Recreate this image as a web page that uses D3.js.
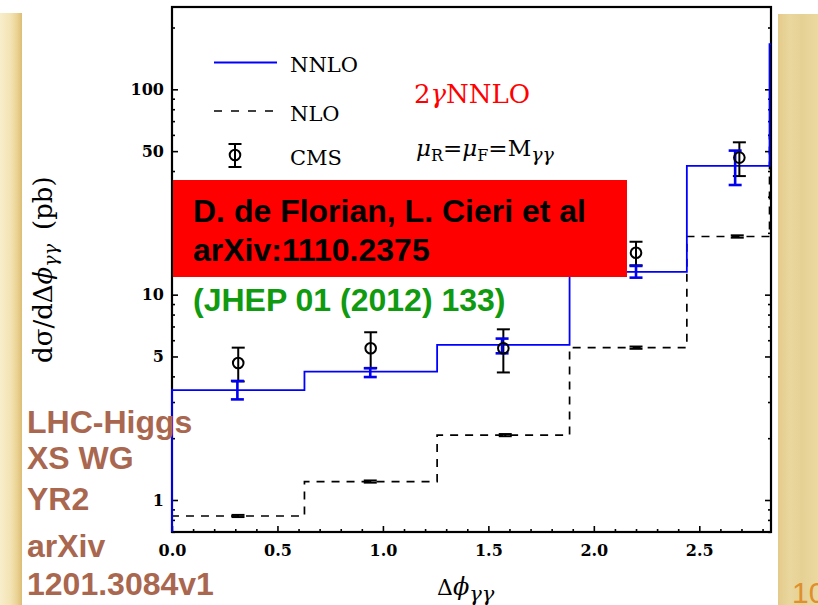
<!DOCTYPE html>
<html><head><meta charset="utf-8">
<script src="https://cdn.jsdelivr.net/npm/d3@7"></script>
<style>html,body{margin:0;padding:0;background:#fff;overflow:hidden}</style>
</head><body>
<svg id="c" width="818" height="605"></svg>
<script>
// Δφγγ bin edges (rad) and theory predictions per bin (pb)
const binEdges = [0, 0.628, 1.257, 1.885, 2.441, 2.833, 3.1416];
const nnloValues = [3.43, 4.22, 5.69, 12.9, 42.4, 166];
const nloValues = [0.836, 1.23, 2.07, 5.52, 19.2, 60];
// theory uncertainty bars
const theoryX = [0.31, 0.94, 1.565, 2.20, 2.67];
const nnloLow = [3.09, 3.97, 5.18, 12.1, 34.2];
const nnloHigh = [3.80, 4.38, 6.11, 13.8, 50.3];
const nloX = [0.313, 0.94, 1.58, 2.20, 2.68];
const nloLow = [0.826, 1.215, 2.045, 5.45, 18.95];
const nloHigh = [0.846, 1.245, 2.095, 5.59, 19.45];
// CMS measurement
const cmsX = [0.314, 0.942, 1.571, 2.20, 2.69];
const cmsValues = [4.65, 5.48, 5.48, 16.0, 46.5];
const cmsErrors = [0.87, 1.08, 1.30, 2.1, 8.7];
// axis ticks
const xTickValues = [0, 0.5, 1.0, 1.5, 2.0, 2.5];
const yTickValues = [1, 5, 10, 50, 100];
const yTickLabels = ["1", "5", "10", "50", "100"];

const svg = d3.select("#c");
const W = 818, H = 605;
const plot = {left: 172, right: 771, top: 7, bottom: 532};

const x = d3.scaleLinear().domain([0, 2.84]).range([plot.left, plot.right]);
const y = d3.scaleLog().domain([0.6985, 251.7]).range([plot.bottom, plot.top]);

const defs = svg.append("defs");
const lg = defs.append("linearGradient").attr("id", "lstrip").attr("x1", 0).attr("x2", 1).attr("y1", 0).attr("y2", 0);
[[0, "#f8eecb"], [0.5, "#f3e3b2"], [0.78, "#ead293"], [1, "#dcbd76"]].forEach(([o, c]) =>
  lg.append("stop").attr("offset", o).attr("stop-color", c));
const rg = defs.append("linearGradient").attr("id", "rstrip").attr("x1", 0).attr("x2", 1).attr("y1", 0).attr("y2", 0);
[[0, "#e3cb8a"], [0.3, "#ead79e"], [0.6, "#e6d194"], [1, "#ebd9a1"]].forEach(([o, c]) =>
  rg.append("stop").attr("offset", o).attr("stop-color", c));
defs.append("clipPath").attr("id", "plotclip").append("rect")
  .attr("x", plot.left - 2).attr("y", plot.top).attr("width", plot.right - plot.left + 2).attr("height", plot.bottom - plot.top);

// slide background strips
svg.append("rect").attr("x", 0).attr("y", 0).attr("width", W).attr("height", H).attr("fill", "#fff");
svg.append("rect").attr("x", 0).attr("y", 13).attr("width", 22).attr("height", H - 13).attr("fill", "url(#lstrip)");
svg.append("rect").attr("x", 778).attr("y", 14).attr("width", 40).attr("height", H - 14).attr("fill", "url(#rstrip)");
svg.append("text").attr("x", 792).attr("y", 603).attr("font-family", "Liberation Sans, Arial, sans-serif")
  .attr("font-size", 30).attr("fill", "#df8f2e").text("10");

// axes (ticks point inward)
const tickFont = "DejaVu Serif, serif";
function styleAxis(g) {
  g.select(".domain").remove();
  g.selectAll(".tick line").attr("stroke", "#000").attr("stroke-width", 1.6);
  g.selectAll(".tick text").attr("font-family", tickFont).attr("font-weight", "bold").attr("font-size", 16).attr("fill", "#000");
}
const yMinor = [];
[0.1, 1, 10, 100].forEach(d => { for (let k = 2; k <= 9; k++) { const v = d * k; if (v > y.domain()[0] && v < y.domain()[1] && !yTickValues.includes(v)) yMinor.push(v); } });
const xMinor = d3.range(0, 2.84, 0.1).filter(v => Math.abs(v * 2 - Math.round(v * 2)) > 1e-6);

svg.append("g").attr("transform", `translate(${plot.left},0)`)
  .call(d3.axisLeft(y).tickValues(yTickValues).tickFormat((d, i) => yTickLabels[i]).tickSize(-6).tickPadding(8))
  .call(styleAxis);
svg.append("g").attr("transform", `translate(${plot.left},0)`)
  .call(d3.axisLeft(y).tickValues(yMinor).tickFormat("").tickSize(-3)).call(styleAxis);
svg.append("g").attr("transform", `translate(${plot.right},0)`)
  .call(d3.axisRight(y).tickValues(yTickValues).tickFormat("").tickSize(-6)).call(styleAxis);
svg.append("g").attr("transform", `translate(${plot.right},0)`)
  .call(d3.axisRight(y).tickValues(yMinor).tickFormat("").tickSize(-3)).call(styleAxis);
svg.append("g").attr("transform", `translate(0,${plot.bottom})`)
  .call(d3.axisBottom(x).tickValues(xTickValues).tickFormat(d3.format(".1f")).tickSize(-6).tickPadding(13))
  .call(styleAxis);
svg.append("g").attr("transform", `translate(0,${plot.bottom})`)
  .call(d3.axisBottom(x).tickValues(xMinor).tickFormat("").tickSize(-3)).call(styleAxis);

svg.append("rect").attr("x", plot.left).attr("y", plot.top)
  .attr("width", plot.right - plot.left).attr("height", plot.bottom - plot.top)
  .attr("fill", "none").attr("stroke", "#000").attr("stroke-width", 2.2);

// histograms
function stepPoints(values) {
  const pts = [[binEdges[0], y.domain()[0]]];
  values.forEach((v, i) => pts.push([binEdges[i], v]));
  pts.push([binEdges[binEdges.length - 1], values[values.length - 1]]);
  return pts;
}
const step = d3.line().x(d => x(d[0])).y(d => y(d[1])).curve(d3.curveStepAfter);
const hist = svg.append("g").attr("clip-path", "url(#plotclip)");
hist.append("path").attr("d", step(stepPoints(nloValues))).attr("fill", "none")
  .attr("stroke", "#000").attr("stroke-width", 1.7).attr("stroke-dasharray", "8,7");
hist.append("path").attr("d", step(stepPoints(nnloValues))).attr("fill", "none")
  .attr("stroke", "#0000ff").attr("stroke-width", 1.8);

// error bars
function errorBars(g, xs, lo, hi, color, width, cap) {
  xs.forEach((xv, i) => {
    const cx = x(xv), y0 = y(lo[i]), y1 = y(hi[i]);
    g.append("line").attr("x1", cx).attr("x2", cx).attr("y1", y0).attr("y2", y1).attr("stroke", color).attr("stroke-width", width);
    [y0, y1].forEach(yy => g.append("line").attr("x1", cx - cap / 2).attr("x2", cx + cap / 2)
      .attr("y1", yy).attr("y2", yy).attr("stroke", color).attr("stroke-width", width));
  });
}
const bars = svg.append("g");
errorBars(bars, nloX, nloLow, nloHigh, "#000", 2, 13);
errorBars(bars, cmsX, cmsValues.map((v, i) => v - cmsErrors[i]), cmsValues.map((v, i) => v + cmsErrors[i]), "#000", 2, 13);
errorBars(bars, theoryX, nnloLow, nnloHigh, "#0000ee", 2.6, 13);
cmsX.forEach((xv, i) => bars.append("circle").attr("cx", x(xv)).attr("cy", y(cmsValues[i])).attr("r", 5.3)
  .attr("fill", "none").attr("stroke", "#000").attr("stroke-width", 2));

// legend
const serif = "DejaVu Serif, serif";
const leg = svg.append("g").attr("font-family", serif).attr("font-size", 21).attr("fill", "#000");
leg.append("line").attr("x1", 214).attr("x2", 277).attr("y1", 62.5).attr("y2", 62.5).attr("stroke", "#0000ff").attr("stroke-width", 1.8);
leg.append("line").attr("x1", 214).attr("x2", 274).attr("y1", 111).attr("y2", 111).attr("stroke", "#000").attr("stroke-width", 1.7).attr("stroke-dasharray", "8,9");
leg.append("line").attr("x1", 235).attr("x2", 235).attr("y1", 144).attr("y2", 167).attr("stroke", "#000").attr("stroke-width", 2);
[144, 167].forEach(yy => leg.append("line").attr("x1", 228.5).attr("x2", 241.5).attr("y1", yy).attr("y2", yy).attr("stroke", "#000").attr("stroke-width", 2));
leg.append("circle").attr("cx", 235).attr("cy", 155).attr("r", 5.3).attr("fill", "none").attr("stroke", "#000").attr("stroke-width", 2);
leg.append("text").attr("x", 290).attr("y", 72).text("NNLO");
leg.append("text").attr("x", 290).attr("y", 120.5).text("NLO");
leg.append("text").attr("x", 290).attr("y", 164.5).text("CMS");

// calculation label and scale choice
const t1 = svg.append("text").attr("x", 414).attr("y", 103).attr("font-family", serif).attr("font-size", 26).attr("fill", "#ff0000");
t1.append("tspan").text("2");
t1.append("tspan").attr("font-style", "italic").text("γ");
t1.append("tspan").text("NNLO");
const t2 = svg.append("text").attr("x", 416).attr("y", 156).attr("font-family", serif).attr("font-size", 23).attr("fill", "#000");
t2.append("tspan").attr("font-style", "italic").text("μ");
t2.append("tspan").attr("font-size", 16).attr("dy", 5).text("R");
t2.append("tspan").attr("dy", -5).text("=");
t2.append("tspan").attr("font-style", "italic").text("μ");
t2.append("tspan").attr("font-size", 16).attr("dy", 5).text("F");
t2.append("tspan").attr("dy", -5).text("=");
t2.append("tspan").text("M");
t2.append("tspan").attr("font-size", 19).attr("font-style", "italic").attr("dy", 5).text("γγ");

// axis titles
const xt = svg.append("text").attr("x", 437).attr("y", 595).attr("font-family", serif).attr("font-size", 22).attr("fill", "#000");
xt.append("tspan").text("Δ");
xt.append("tspan").attr("font-style", "italic").attr("font-size", 24).text("ϕ");
xt.append("tspan").attr("font-style", "italic").attr("font-size", 21).attr("dy", 6).text("γγ");
const yt = svg.append("text").attr("transform", "translate(52,363) rotate(-90)")
  .attr("font-family", serif).attr("font-size", 26).attr("fill", "#000");
yt.append("tspan").text("dσ/dΔ");
yt.append("tspan").attr("font-style", "italic").text("ϕ");
yt.append("tspan").attr("font-style", "italic").attr("font-size", 19).attr("dy", 5).text("γγ");
yt.append("tspan").attr("dy", -5).attr("dx", 14).text("(pb)");

// reference banner
svg.append("rect").attr("x", 173).attr("y", 180).attr("width", 454).attr("height", 97).attr("fill", "#ff0000");
const sans = "Liberation Sans, Arial, sans-serif";
const ban = svg.append("g").attr("font-family", sans).attr("font-weight", "bold").attr("font-size", 32);
ban.append("text").attr("x", 193).attr("y", 222).attr("fill", "#000").text("D. de Florian, L. Cieri et al");
ban.append("text").attr("x", 193).attr("y", 261).attr("fill", "#000").text("arXiv:1110.2375");
ban.append("text").attr("x", 193).attr("y", 311).attr("fill", "#109a10").text("(JHEP 01 (2012) 133)");

// side notes
const notes = ["LHC-Higgs", "XS WG", "YR2", "arXiv", "1201.3084v1"];
const noteY = [433, 468.5, 510, 556.5, 595];
const sn = svg.append("g").attr("font-family", sans).attr("font-weight", "bold").attr("font-size", 32).attr("fill", "#a9674f");
notes.forEach((t, i) => sn.append("text").attr("x", 27).attr("y", noteY[i]).text(t));
</script>
</body></html>
